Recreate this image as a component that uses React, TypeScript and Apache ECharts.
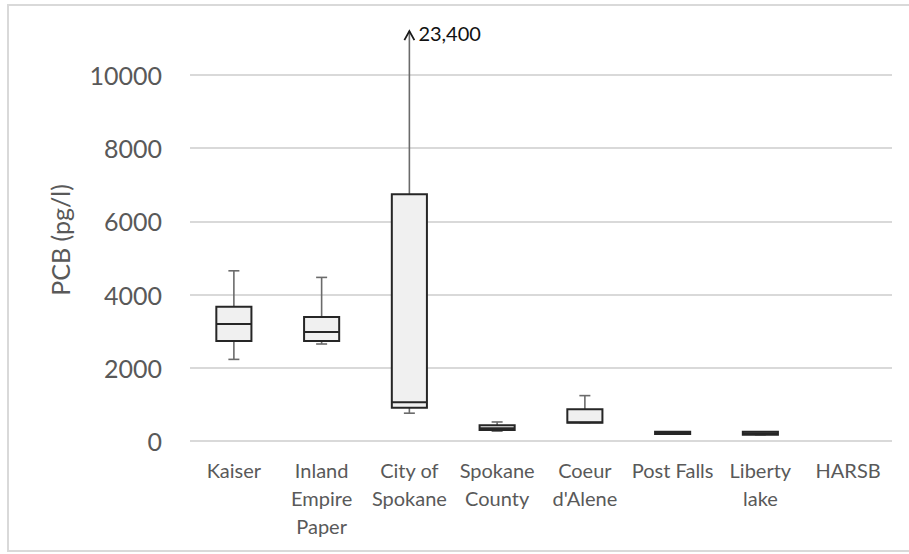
import React, { useEffect, useRef } from "react";
import * as echarts from "echarts";

// ---- Data ----
const categories = [
  "Kaiser",
  "Inland\nEmpire\nPaper",
  "City of\nSpokane",
  "Spokane\nCounty",
  "Coeur\nd'Alene",
  "Post Falls",
  "Liberty\nlake",
  "HARSB",
];
const whiskerLow = [2230, 2650, 760, 270, 500, 190, 170, null];
const quartile1 = [2730, 2730, 910, 300, 500, 190, 170, null];
const medians = [3200, 2980, 1060, 350, 510, 220, 210, null];
const quartile3 = [3670, 3390, 6740, 430, 870, 250, 250, null];
const whiskerHigh = [4650, 4470, 23400, 520, 1240, 250, 250, null];

const yTicks = { min: 0, max: 10000, interval: 2000 };
const CLIP_VALUE = 11200; // whiskers above this are drawn truncated with an arrow

const FONT = "Lato, 'Open Sans', sans-serif";

export default function App() {
  const ref = useRef<HTMLDivElement>(null);

  useEffect(() => {
    if (!ref.current) return;
    const chart = echarts.init(ref.current, undefined, { renderer: "svg" });

    const data: number[][] = [];
    categories.forEach((_, i) => {
      if (whiskerLow[i] == null) return;
      data.push([
        i,
        whiskerLow[i] as number,
        quartile1[i] as number,
        medians[i] as number,
        quartile3[i] as number,
        whiskerHigh[i] as number,
      ]);
    });

    const renderItem = (params: any, api: any) => {
      const idx = api.value(0);
      const low = api.value(1);
      const q1 = api.value(2);
      const med = api.value(3);
      const q3 = api.value(4);
      const high = api.value(5);
      const clipped = high > CLIP_VALUE;
      const shownHigh = clipped ? CLIP_VALUE : high;

      const cx = api.coord([idx, 0])[0];
      const yLow = api.coord([idx, low])[1];
      const yQ1 = api.coord([idx, q1])[1];
      const yMed = api.coord([idx, med])[1];
      const yQ3 = api.coord([idx, q3])[1];
      const yHigh = api.coord([idx, shownHigh])[1];
      const bw = api.size([1, 0])[0] * 0.4;
      const cap = 5.5;
      const whiskerStyle = { stroke: "#6b6b6b", lineWidth: 1.6 };
      const children: any[] = [];

      if (yHigh < yQ3) {
        children.push({
          type: "line",
          shape: { x1: cx, y1: yQ3, x2: cx, y2: yHigh },
          style: whiskerStyle,
        });
      }
      if (!clipped) {
        children.push({
          type: "line",
          shape: { x1: cx - cap, y1: yHigh, x2: cx + cap, y2: yHigh },
          style: whiskerStyle,
        });
      }
      if (yLow > yQ1) {
        children.push({
          type: "line",
          shape: { x1: cx, y1: yQ1, x2: cx, y2: yLow },
          style: whiskerStyle,
        });
      }
      children.push({
        type: "line",
        shape: { x1: cx - cap, y1: yLow, x2: cx + cap, y2: yLow },
        style: whiskerStyle,
      });

      children.push({
        type: "rect",
        shape: { x: cx - bw / 2, y: yQ3, width: bw, height: Math.max(yQ1 - yQ3, 0.5) },
        style: { fill: "#f0f0f0", stroke: "#262626", lineWidth: 2 },
      });
      children.push({
        type: "line",
        shape: { x1: cx - bw / 2, y1: yMed, x2: cx + bw / 2, y2: yMed },
        style: { stroke: "#262626", lineWidth: 2 },
      });

      if (clipped) {
        children.push({
          type: "polyline",
          shape: {
            points: [
              [cx - 5, yHigh + 9],
              [cx, yHigh],
              [cx + 5, yHigh + 9],
            ],
          },
          style: { stroke: "#1a1a1a", lineWidth: 1.8, fill: "none" },
        });
        children.push({
          type: "text",
          x: cx + 9,
          y: yHigh + 2,
          style: {
            text: Number(high).toLocaleString("en-US"),
            fill: "#111111",
            font: `20px ${FONT}`,
            align: "left",
            verticalAlign: "middle",
          },
        });
      }
      return { type: "group", children };
    };

    chart.setOption({
      animation: false,
      backgroundColor: "#ffffff",
      textStyle: { fontFamily: FONT },
      grid: { left: 190, right: 17, top: 75, bottom: 113 },
      xAxis: {
        type: "category",
        data: categories,
        boundaryGap: true,
        axisLine: { show: false },
        axisTick: { show: false },
        axisLabel: {
          color: "#595959",
          fontSize: 20,
          lineHeight: 28,
          margin: 15,
          interval: 0,
          fontFamily: FONT,
        },
      },
      yAxis: {
        type: "value",
        min: yTicks.min,
        max: yTicks.max,
        interval: yTicks.interval,
        axisLine: { show: false },
        axisTick: { show: false },
        axisLabel: {
          color: "#595959",
          fontSize: 25,
          margin: 28,
          fontFamily: FONT,
          formatter: (v: number) => String(v),
        },
        splitLine: { lineStyle: { color: "#d9d9d9", width: 2 } },
      },
      graphic: [
        {
          type: "rect",
          shape: { x: 8, y: 5, width: 920, height: 546 },
          style: { fill: "none", stroke: "#d9d9d9", lineWidth: 2 },
          silent: true,
          z: -1,
        },
        {
          type: "text",
          x: 60,
          y: 240,
          rotation: Math.PI / 2,
          style: {
            text: "PCB (pg/l)",
            fill: "#595959",
            font: `25px ${FONT}`,
            align: "center",
            verticalAlign: "middle",
          },
        },
      ],
      series: [
        {
          type: "custom",
          clip: false,
          renderItem,
          data,
          encode: { x: 0, y: [1, 2, 3, 4, 5] },
        },
      ],
    });

    return () => chart.dispose();
  }, []);

  return (
    <div
      ref={ref}
      style={{ position: "absolute", left: 0, top: 0, width: 909, height: 554 }}
    />
  );
}
